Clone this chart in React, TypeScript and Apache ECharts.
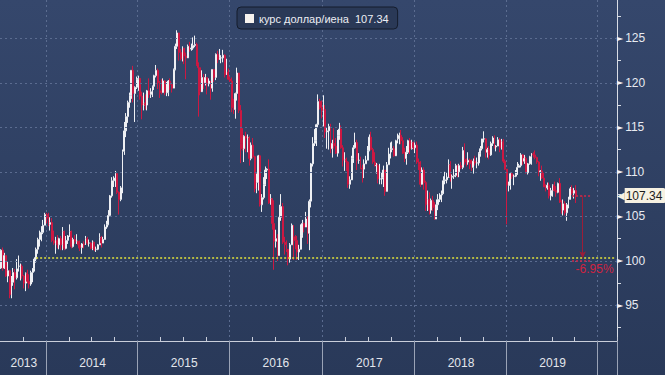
import React, { useEffect, useRef } from "react";
import * as echarts from "echarts";

// Weekly USD/JPY candles (week ending Friday), starting 2013-07-05
const START_DATE = "2013-07-05";
const TOTAL_WEEKS = 350; // axis runs on to early 2020
const FIRST_OPEN = 99.2;
const SERIES_NAME = "курс доллар/иена";

const closes = [
  // 2013
  101.2, 99.2, 100.6, 98.3, 98.9, 96.2, 97.6, 98.7, 98.1, 99.1, 99.4, 99.4, 98.3, 97.5, 98.6, 97.7, 97.4, 98.7, 99.1, 100.2, 101.3, 102.4, 102.9, 103.2, 104.0, 105.2,
  // 2014
  104.8, 104.1, 104.3, 102.3, 102.0, 102.3, 101.8, 102.5, 101.8, 103.3, 101.4, 102.3, 102.8, 103.3, 101.6, 102.4, 102.2, 102.2, 101.8, 101.5, 101.9, 101.8, 102.5, 102.0, 102.0, 101.4,
  102.1, 101.3, 101.3, 101.8, 102.6, 102.0, 102.4, 103.8, 104.1, 105.1, 107.3, 109.0, 109.3, 109.8, 107.7, 106.9, 108.2, 112.3, 114.6, 116.2, 117.8, 118.6, 121.4, 118.8, 119.5, 120.4,
  // 2015
  120.5, 118.5, 117.5, 117.7, 117.5, 119.1, 118.7, 119.0, 119.6, 120.8, 121.4, 120.0, 119.1, 118.9, 120.2, 118.9, 118.9, 120.2, 119.8, 119.4, 121.5, 124.1, 125.6, 123.4, 122.7, 123.9,
  123.0, 122.8, 124.1, 123.8, 123.9, 124.2, 124.3, 122.0, 121.7, 119.0, 120.6, 120.0, 120.6, 119.9, 120.2, 119.4, 121.5, 120.6, 123.2, 122.6, 122.8, 122.8, 123.1, 120.9, 121.2, 120.4,
  // 2016
  120.2, 117.2, 117.0, 118.8, 121.1, 116.9, 113.2, 112.6, 114.0, 113.8, 113.8, 111.5, 113.0, 111.7, 108.1, 108.8, 111.8, 106.3, 107.1, 108.6, 110.2, 110.3, 106.5, 107.0, 104.2, 102.2,
  102.5, 100.6, 104.9, 106.1, 102.1, 101.8, 101.3, 100.2, 101.8, 104.0, 102.7, 102.3, 101.0, 101.3, 102.9, 104.2, 103.8, 104.7, 103.1, 106.7, 110.9, 113.2, 113.5, 115.3, 117.9, 117.2, 116.9,
  // 2017
  117.0, 114.5, 114.6, 115.1, 112.6, 113.2, 112.9, 112.1, 114.1, 114.8, 112.7, 111.3, 111.4, 111.1, 108.6, 109.1, 111.5, 112.7, 113.3, 111.3, 111.3, 110.4, 110.3, 110.9, 111.3, 112.4,
  113.9, 112.5, 111.1, 110.7, 110.7, 109.2, 109.2, 109.4, 110.2, 107.8, 110.8, 112.0, 112.5, 112.6, 111.8, 113.5, 113.7, 114.1, 113.5, 112.1, 111.5, 112.2, 113.5, 112.6, 113.3, 112.7,
  // 2018
  113.0, 111.1, 110.8, 108.6, 110.2, 108.8, 106.3, 106.9, 105.7, 106.8, 106.0, 104.7, 106.3, 106.9, 107.4, 107.6, 109.0, 109.1, 109.4, 110.8, 109.4, 109.5, 109.6, 110.7, 110.0, 110.7,
  110.5, 112.4, 111.4, 111.1, 111.3, 110.9, 110.5, 111.2, 111.0, 111.0, 112.1, 112.6, 113.7, 113.7, 112.2, 112.5, 111.9, 113.2, 113.8, 112.8, 112.9, 113.6, 112.7, 113.4, 111.2, 110.3,
  // 2019
  108.5, 108.5, 109.8, 109.5, 109.5, 109.7, 110.5, 110.7, 111.9, 111.2, 111.5, 109.9, 110.9, 111.7, 112.0, 111.9, 111.6, 111.1, 110.0, 110.1, 109.3, 108.3, 108.2, 108.5, 107.3, 107.9,
  108.5, 107.9, 107.7, 108.7, 106.6, 105.7, 106.4, 105.4, 106.3, 106.9, 108.1, 107.6, 107.9, 107.34,
];

const highs = [
  // 2013
  101.3, 101.5, 100.9, 100.6, 99.9, 99.0, 98.3, 99.2, 99.1, 100.2, 100.6, 99.7, 99.6, 98.4, 98.7, 99.0, 98.5, 98.9, 99.2, 100.4, 101.5, 102.6, 103.4, 103.9, 104.6, 105.4,
  // 2014
  105.4, 105.4, 104.9, 104.8, 103.4, 102.7, 102.9, 102.6, 102.8, 103.8, 103.4, 102.8, 102.9, 104.1, 103.4, 102.6, 102.9, 103.0, 102.2, 102.3, 102.0, 102.2, 102.8, 102.7, 102.4, 102.1,
  102.3, 102.0, 101.6, 101.9, 103.1, 102.8, 102.7, 104.1, 104.5, 105.7, 107.4, 109.4, 109.5, 110.1, 109.2, 107.8, 108.4, 112.5, 115.6, 116.6, 118.0, 118.9, 121.4, 121.9, 119.6, 120.7,
  // 2015
  120.8, 120.2, 119.0, 118.9, 118.7, 119.2, 120.5, 119.4, 119.7, 120.9, 122.0, 121.6, 120.2, 120.4, 120.5, 120.3, 120.1, 120.3, 120.5, 120.0, 121.6, 124.4, 125.9, 125.0, 123.8, 124.1,
  123.5, 123.4, 124.3, 124.6, 124.4, 125.1, 125.3, 124.5, 122.3, 121.7, 121.4, 121.0, 121.0, 120.6, 120.5, 120.2, 121.5, 121.5, 123.3, 123.6, 123.8, 123.1, 123.7, 123.2, 122.7, 121.6,
  // 2016
  120.7, 120.6, 118.2, 118.9, 121.7, 121.0, 117.5, 114.9, 114.1, 114.5, 114.2, 114.0, 113.3, 113.8, 111.8, 109.8, 111.9, 111.9, 107.5, 109.4, 110.6, 110.4, 111.4, 107.5, 107.0, 106.8,
  103.5, 103.0, 106.3, 107.5, 106.5, 102.7, 102.3, 101.2, 102.0, 104.2, 104.0, 102.9, 102.8, 101.8, 104.1, 104.6, 104.3, 105.5, 105.0, 106.9, 111.0, 113.9, 114.8, 115.4, 118.7, 118.2, 118.0,
  // 2017
  118.6, 117.5, 115.0, 115.4, 115.4, 113.6, 114.9, 113.8, 114.7, 115.5, 115.2, 113.0, 112.2, 111.6, 111.2, 109.5, 111.8, 113.0, 114.4, 113.6, 112.1, 111.7, 110.8, 111.4, 111.8, 112.9,
  114.2, 114.5, 112.7, 112.2, 111.0, 110.9, 110.9, 109.9, 110.7, 110.0, 111.1, 112.7, 113.3, 113.4, 112.9, 113.6, 114.3, 114.4, 114.7, 113.9, 112.7, 112.9, 113.6, 113.8, 113.6, 113.4,
  // 2018
  113.3, 113.4, 111.5, 111.2, 110.5, 110.5, 109.0, 107.9, 107.7, 107.0, 107.3, 106.6, 106.9, 107.5, 107.6, 107.9, 109.5, 110.0, 109.9, 111.4, 111.2, 109.7, 110.3, 110.9, 110.8, 110.9,
  111.1, 112.8, 113.2, 111.5, 112.2, 111.5, 111.4, 111.5, 111.8, 111.6, 112.2, 112.9, 113.7, 114.55, 113.8, 112.7, 112.9, 113.4, 114.0, 114.1, 113.0, 113.9, 113.8, 113.7, 113.7, 111.4,
  // 2019
  110.0, 108.9, 109.9, 109.9, 109.7, 110.2, 111.1, 110.9, 112.1, 112.0, 111.9, 111.7, 111.0, 111.8, 112.1, 112.2, 112.4, 111.7, 111.2, 110.2, 110.7, 109.9, 108.6, 108.8, 108.8, 108.2,
  108.6, 108.9, 108.4, 108.8, 109.3, 106.8, 106.9, 106.7, 106.5, 107.2, 108.3, 108.5, 108.2, 108.5,
];

const lows = [
  // 2013
  99.1, 98.9, 99.1, 98.2, 97.6, 95.8, 95.8, 97.2, 96.8, 97.9, 98.8, 97.8, 98.0, 96.9, 96.6, 97.5, 96.9, 97.2, 97.6, 98.8, 99.8, 100.8, 101.6, 102.2, 103.0, 104.0,
  // 2014
  104.2, 103.9, 103.4, 102.1, 101.8, 100.8, 101.4, 101.3, 101.2, 101.2, 101.2, 101.3, 101.9, 102.7, 101.4, 101.5, 101.9, 101.9, 101.4, 101.1, 100.8, 101.4, 101.8, 101.8, 101.6, 101.3,
  101.2, 101.1, 101.0, 101.2, 101.8, 101.5, 102.0, 102.4, 103.6, 104.0, 105.0, 107.1, 108.3, 108.3, 107.5, 105.2, 106.7, 107.6, 111.9, 113.9, 115.5, 117.2, 118.2, 117.8, 115.6, 119.3,
  // 2015
  119.1, 118.1, 115.9, 116.9, 117.0, 116.9, 118.3, 118.3, 118.4, 119.2, 120.6, 119.3, 118.3, 118.7, 118.9, 118.6, 118.5, 118.5, 119.2, 118.9, 119.4, 121.4, 123.8, 122.5, 122.5, 122.4,
  122.1, 120.4, 122.9, 123.5, 123.6, 123.7, 124.0, 121.9, 116.2, 118.6, 119.3, 119.3, 119.7, 118.7, 119.6, 118.1, 119.0, 120.1, 120.3, 122.2, 122.6, 122.2, 122.3, 120.6, 120.9, 120.3,
  // 2016
  120.1, 116.7, 116.5, 115.97, 118.0, 116.6, 110.98, 112.4, 111.1, 112.2, 112.2, 110.7, 111.3, 111.5, 107.7, 107.6, 107.9, 106.1, 105.5, 106.9, 108.4, 109.2, 106.4, 106.3, 103.5, 99.0,
  101.5, 99.99, 100.6, 104.5, 101.9, 100.7, 101.0, 99.5, 99.8, 101.8, 100.1, 101.3, 100.1, 100.1, 101.4, 102.6, 103.2, 103.8, 101.9, 101.2, 106.0, 110.6, 112.9, 112.9, 115.0, 117.0, 116.0,
  // 2017
  115.1, 113.8, 112.6, 112.5, 112.1, 111.6, 112.6, 112.0, 111.7, 113.6, 112.6, 110.6, 110.1, 110.1, 108.2, 108.1, 109.2, 111.0, 112.6, 110.2, 110.9, 110.3, 108.8, 109.3, 110.9, 111.3,
  112.3, 112.4, 110.9, 110.6, 109.8, 108.7, 108.6, 108.6, 108.3, 107.3, 107.8, 110.8, 111.5, 112.2, 111.7, 111.9, 113.2, 113.1, 113.1, 112.0, 111.1, 110.8, 112.0, 112.0, 112.5, 112.5,
  // 2018
  112.1, 110.9, 110.2, 108.3, 108.7, 108.0, 105.6, 105.6, 105.2, 105.3, 105.6, 104.6, 104.8, 105.7, 106.6, 106.6, 107.5, 108.6, 108.7, 109.3, 108.9, 108.1, 109.2, 109.4, 109.4, 109.4,
  110.3, 110.3, 110.8, 110.6, 110.8, 110.3, 110.1, 109.8, 110.7, 110.4, 110.7, 111.7, 112.4, 113.3, 111.6, 111.6, 111.4, 111.8, 112.9, 112.6, 112.3, 112.9, 112.2, 112.5, 111.0, 110.2,
  // 2019
  104.1, 107.8, 108.0, 109.2, 108.5, 109.4, 109.9, 110.5, 110.5, 110.8, 110.9, 109.8, 109.7, 110.8, 110.8, 111.6, 111.4, 110.9, 109.5, 109.0, 109.2, 108.3, 107.8, 108.0, 107.0, 106.8,
  107.2, 107.8, 107.2, 107.6, 106.5, 105.3, 105.1, 105.1, 104.5, 105.9, 106.9, 107.4, 107.0, 106.5,
];

const yLabelValues = [95, 100, 105, 110, 115, 120, 125];
const yTickValues = [92.5, 95, 97.5, 100, 102.5, 105, 107.5, 110, 112.5, 115, 117.5, 120, 122.5, 125, 127.5];
const SUPPORT_LEVEL = 100.3;
const SUPPORT_FROM = "2013-11-22";
const CHANGE_LABEL = "-6.95%";

const FONT = "'Liberation Sans', Arial, sans-serif";

function buildDates(): string[] {
  const out: string[] = [];
  const d0 = new Date(START_DATE + "T00:00:00Z").getTime();
  for (let i = 0; i < TOTAL_WEEKS; i++) {
    out.push(new Date(d0 + i * 7 * 86400000).toISOString().slice(0, 10));
  }
  return out;
}

export default function App() {
  const ref = useRef<HTMLDivElement>(null);

  useEffect(() => {
    if (!ref.current) return;
    const chart = echarts.init(ref.current, undefined, { renderer: "svg" });

    const dates = buildDates();
    const year = (i: number) => dates[i].slice(0, 4);
    const month = (i: number) => Number(dates[i].slice(5, 7));
    const isYearStart = (i: number) => i > 0 && year(i) !== year(i - 1);
    const isQuarterStart = (i: number) =>
      i > 0 && month(i) !== month(i - 1) && [4, 7, 10].includes(month(i));

    const byYear: Record<string, number[]> = {};
    dates.forEach((d, i) => {
      (byYear[d.slice(0, 4)] = byYear[d.slice(0, 4)] || []).push(i);
    });
    const labelIdx = new Set<number>();
    Object.values(byYear).forEach((arr) => {
      if (arr.length >= 20) labelIdx.add(arr[Math.floor(arr.length / 2)]);
    });

    const candles = closes.map((c, i) => [
      i === 0 ? FIRST_OPEN : closes[i - 1],
      c,
      lows[i],
      highs[i],
    ]);
    const last = closes.length - 1;
    const lastClose = closes[last];
    const supportFromIdx = dates.indexOf(SUPPORT_FROM);

    const gridLine = { color: "#5b6c90", type: [2, 3] as any, width: 1 };
    const red = "#d0223f";
    const capStyle = { color: "#d4284a", type: [2, 2] as any, width: 1.5 };

    chart.setOption({
      animation: false,
      backgroundColor: new echarts.graphic.LinearGradient(0, 0, 0, 1, [
        { offset: 0, color: "#35476c" },
        { offset: 1, color: "#293959" },
      ]),
      textStyle: { fontFamily: FONT },
      legend: {
        left: 237,
        top: 7,
        padding: [6, 9, 5, 8],
        backgroundColor: "#2a3957",
        borderColor: "#141c2c",
        borderWidth: 1,
        borderRadius: 4,
        itemWidth: 9,
        itemHeight: 9,
        data: [
          {
            name: SERIES_NAME,
            icon: "rect",
            itemStyle: { color: "#f7f3ee", borderWidth: 0 },
          },
        ],
        formatter: (n: string) => `${n}  ${lastClose.toFixed(2)}`,
        textStyle: { color: "#eceef3", fontSize: 11, fontFamily: FONT },
        selectedMode: false,
      },
      grid: { left: 0, right: 48, top: 0, bottom: 34 },
      xAxis: [
        {
          type: "category",
          data: dates,
          boundaryGap: true,
          axisLine: { show: true, lineStyle: { color: "#c9ceda", width: 1 } },
          axisTick: {
            show: true,
            inside: true,
            length: 4,
            interval: (i: number) => isQuarterStart(i),
            lineStyle: { color: "#c9ceda" },
          },
          axisLabel: {
            show: true,
            interval: (i: number) => labelIdx.has(i),
            formatter: (v: string) => v.slice(0, 4),
            color: "#e3e6ec",
            fontSize: 12,
            margin: 16,
            fontFamily: FONT,
          },
          splitLine: {
            show: true,
            interval: (i: number) => isYearStart(i),
            lineStyle: gridLine,
          },
        },
        {
          type: "category",
          data: dates,
          boundaryGap: true,
          position: "bottom",
          axisLine: { show: false },
          axisTick: {
            show: true,
            length: 34,
            interval: (i: number) => isYearStart(i),
            lineStyle: { color: "#9aa3b6" },
          },
          axisLabel: { show: false },
          splitLine: { show: false },
        },
      ],
      yAxis: {
        type: "value",
        position: "right",
        min: 91,
        max: 129.3,
        scale: true,
        axisLine: { show: true, lineStyle: { color: "#d9dde6", width: 1 } },
        axisTick: {
          show: true,
          length: 4,
          customValues: yTickValues,
          lineStyle: { color: "#d9dde6" },
        },
        axisLabel: {
          show: true,
          customValues: yLabelValues,
          margin: 0,
          formatter: (v: number) => `{t|►}{v|${v}}`,
          rich: {
            t: { fontSize: 8, color: "#f2f3f6", padding: [0, 2, 0, 0], fontFamily: "'DejaVu Sans', sans-serif" },
            v: { fontSize: 12, color: "#e8ebf1", fontFamily: FONT },
          },
        },
        splitLine: { show: false },
      },
      series: [
        {
          type: "line",
          data: [],
          z: 1,
          silent: true,
          markLine: {
            silent: true,
            symbol: ["none", "none"],
            label: { show: false },
            lineStyle: gridLine,
            data: yLabelValues.map((v) => ({ yAxis: v })),
          },
        },
        {
          name: SERIES_NAME,
          type: "candlestick",
          z: 2,
          data: candles,
          barWidth: "80%",
          itemStyle: {
            color: "#33456a",
            borderColor: "#eef0f4",
            color0: "#cc1842",
            borderColor0: "#cc1842",
            borderWidth: 1,
          },
        },
        {
          type: "line",
          data: [],
          z: 5,
          silent: true,
          clip: false,
          markLine: {
            silent: true,
            symbol: ["none", "none"],
            label: { show: false },
            data: [
              [
                {
                  coord: [supportFromIdx, SUPPORT_LEVEL],
                  lineStyle: { color: "#e2e23a", type: [2, 2], width: 1.5 },
                },
                { coord: [TOTAL_WEEKS - 1, SUPPORT_LEVEL] },
              ],
              {
                yAxis: lastClose,
                lineStyle: { color: "rgba(0,0,0,0)", width: 0 },
                label: {
                  show: true,
                  position: "end",
                  distance: 0,
                  formatter: `{p|◀}{b|${lastClose.toFixed(2)}}`,
                  rich: {
                    p: {
                      color: "#f6f1e2",
                      fontSize: 10,
                      fontFamily: "'DejaVu Sans', sans-serif",
                      padding: [0, 0, 0, 0],
                    },
                    b: {
                      backgroundColor: "#f6f1e2",
                      color: "#1c1c1c",
                      fontSize: 12,
                      fontFamily: FONT,
                      padding: [2, 3, 1, 1],
                      borderRadius: [0, 2, 2, 0],
                    },
                  },
                },
              },
              [
                { coord: [last - 2, lastClose], lineStyle: capStyle },
                { coord: [last + 9, lastClose] },
              ],
              [
                { coord: [last - 2, SUPPORT_LEVEL - 0.25], lineStyle: capStyle },
                { coord: [last + 9, SUPPORT_LEVEL - 0.25] },
              ],
              [
                {
                  coord: [last + 4, lastClose],
                  symbol: "none",
                  lineStyle: { color: "#9c1d38", type: "solid", width: 1 },
                  label: {
                    show: true,
                    position: "end",
                    formatter: CHANGE_LABEL,
                    color: red,
                    fontSize: 12,
                    fontFamily: FONT,
                    distance: 2,
                    offset: [12, 3],
                  },
                },
                { coord: [last + 4, SUPPORT_LEVEL], symbol: "arrow", symbolSize: [5, 7] },
              ],
            ],
          },
        },
      ],
    });

    return () => chart.dispose();
  }, []);

  return (
    <div
      ref={ref}
      style={{ position: "fixed", left: 0, top: 0, width: 665, height: 375 }}
    />
  );
}
